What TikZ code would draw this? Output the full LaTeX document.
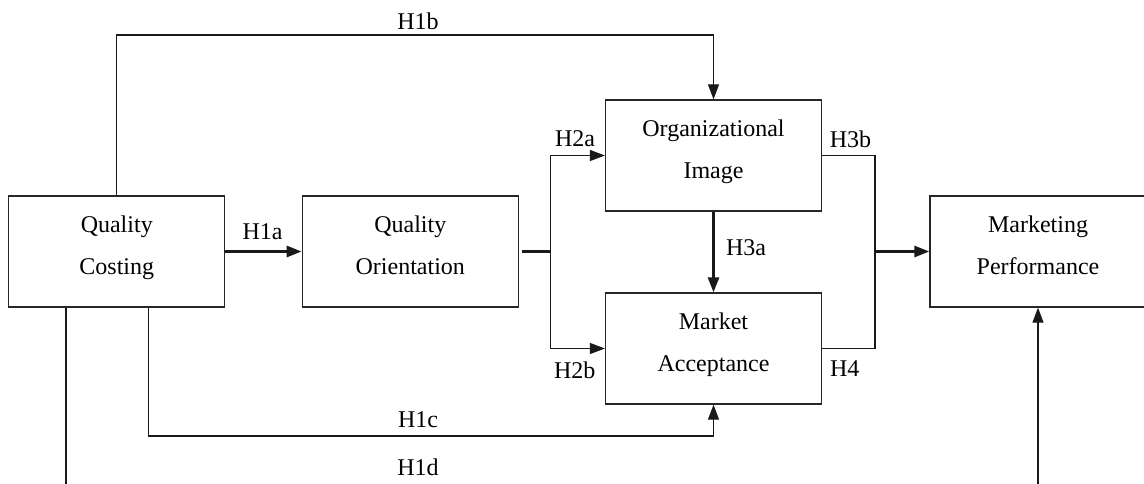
\documentclass[tikz,border=0pt]{standalone}
\usepackage{fontspec}
\setmainfont{Liberation Serif}
\usetikzlibrary{arrows.meta,calc}
\begin{document}
\begin{tikzpicture}[x=1pt,y=-1pt,
  box/.style={draw=black!85, line width=1.3pt, minimum width=216pt, minimum height=111pt,
    align=center, inner sep=0pt, font=\fontsize{24}{42}\selectfont,
    execute at begin node={\strut}, execute at end node={\strut}},
  lbl/.style={font=\fontsize{24}{28}\selectfont, inner sep=0pt},
  lnthin/.style={line width=1.3pt, draw=black!90},
  lnthick/.style={line width=2.7pt, draw=black!90},
  tip/.style={-{Triangle[length=15pt,width=11pt]}}]
\useasboundingbox (0,0) rectangle (1144,484);
\clip (0,0) rectangle (1144,484);

% boxes
\node[box] (qc) at (116.75,251.5) {Quality\\Costing};
\node[box] (qo) at (410.3,251.5) {Quality\\Orientation};
\node[box] (oi) at (713.5,155.5) {Organizational\\Image};
\node[box] (ma) at (713.5,348.5) {Market\\Acceptance};
\node[box] (mp) at (1038,251.5) {Marketing\\Performance};

% helper coordinates
\coordinate (h1bY) at (0,35);
\coordinate (br) at (550.5,251.5);
\coordinate (mg) at (875,251.5);
\coordinate (h1c) at (148.5,436);
\coordinate (h1d) at (66,484);
\coordinate (mpb) at (1038,484);

% connectors
\draw[lnthin,tip] (qc.north) |- (h1bY -| oi.north) -- (oi.north);
\draw[lnthick,tip] (qc.east) -- (qo.west);
\draw[lnthick] ([xshift=3pt]qo.east) -- (br);
\draw[lnthin,tip] (br) |- (oi.west);
\draw[lnthin,tip] (br) |- (ma.west);
\draw[lnthick,tip] (oi.south) -- (ma.north);
\draw[lnthin] (oi.east) -| (mg) |- (ma.east);
\draw[lnthick,tip] (mg) -- (mp.west);
\draw[lnthin,tip] (h1c |- qc.south) -- (h1c) -| (ma.south);
\draw[lnthin] (h1d |- qc.south) -- (h1d);
\draw[lnthin,tip] (mpb) -- (mp.south);

% labels
\node[lbl] (l1b) at (418,21.5) {H1b};
\node[lbl] (l1a) at (262.5,232) {H1a};
\node[lbl] (l2a) at (575,139) {H2a};
\node[lbl] (l3b) at (850.5,139) {H3b};
\node[lbl] (l3a) at (746,248) {H3a};
\node[lbl] (l2b) at (574.7,370) {H2b};
\node[lbl] (l4) at (844.7,369) {H4};
\node[lbl] (l1c) at (418,420) {H1c};
\node[lbl] (l1d) at (418,467.5) {H1d};
\end{tikzpicture}
\end{document}
